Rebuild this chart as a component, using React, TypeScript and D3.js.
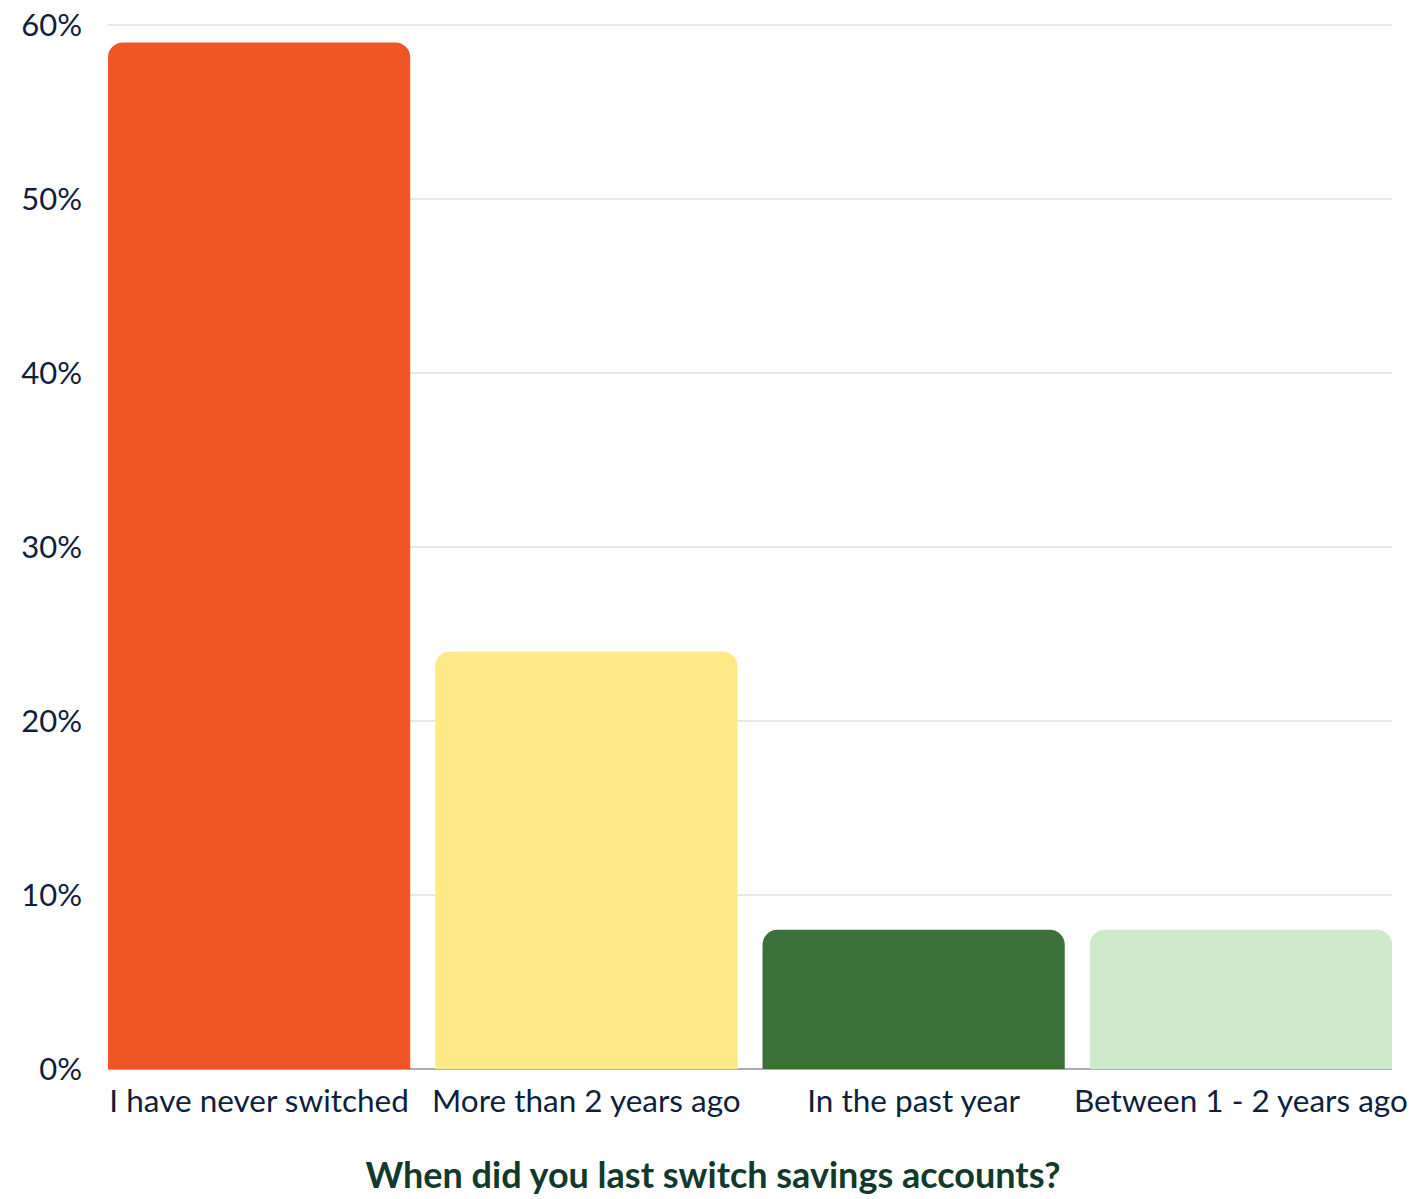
import React from "react";
import * as d3 from "d3";

const categories = ["I have never switched", "More than 2 years ago", "In the past year", "Between 1 - 2 years ago"];
const values = [59, 24, 8, 8];
const colors = ["#EF5525", "#FDE985", "#3B7138", "#CEEBC9"];
const yTicks = [0, 10, 20, 30, 40, 50, 60];
const axisTitle = "When did you last switch savings accounts?";

const W = 1411;
const H = 1199;
const FONT = "Lato, 'Open Sans', sans-serif";

export default function App() {
  const x = d3.scaleBand<string>().domain(categories).range([108, 1392]).paddingInner(0.0765).paddingOuter(0);
  const y = d3.scaleLinear().domain([0, 60]).range([1069, 25]);
  const r = 15;
  const barPath = (i: number) => {
    const x0 = x(categories[i])!;
    const w = x.bandwidth();
    const y0 = y(values[i]);
    const yb = y(0);
    const p = d3.path();
    p.moveTo(x0, yb);
    p.lineTo(x0, y0 + r);
    p.arcTo(x0, y0, x0 + r, y0, r);
    p.lineTo(x0 + w - r, y0);
    p.arcTo(x0 + w, y0, x0 + w, y0 + r, r);
    p.lineTo(x0 + w, yb);
    p.closePath();
    return p.toString();
  };
  return (
    <svg width={W} height={H} style={{ position: "absolute", left: 0, top: 0 }} fontFamily={FONT}>
      <rect width={W} height={H} fill="#fff" />
      {yTicks.map((t) => (
        <g key={t}>
          {t > 0 && <line x1={108} x2={1392} y1={y(t)} y2={y(t)} stroke="#CDD0D9" strokeWidth={1.2} />}
          <text x={82} y={y(t)} dy="0.36em" textAnchor="end" fontSize={31} fill="#0E1F3E">
            {t}%
          </text>
        </g>
      ))}
      <line x1={108} x2={1392} y1={y(0)} y2={y(0)} stroke="#8A909E" strokeWidth={1.5} />
      {categories.map((c, i) => (
        <path key={c} d={barPath(i)} fill={colors[i]} />
      ))}
      {categories.map((c) => (
        <text key={c} x={x(c)! + x.bandwidth() / 2} y={1112} textAnchor="middle" fontSize={31.5} fill="#0E1F3E">
          {c}
        </text>
      ))}
      <text x={713} y={1188} textAnchor="middle" fontSize={36} fontWeight={700} fill="#12392B">
        {axisTitle}
      </text>
    </svg>
  );
}
